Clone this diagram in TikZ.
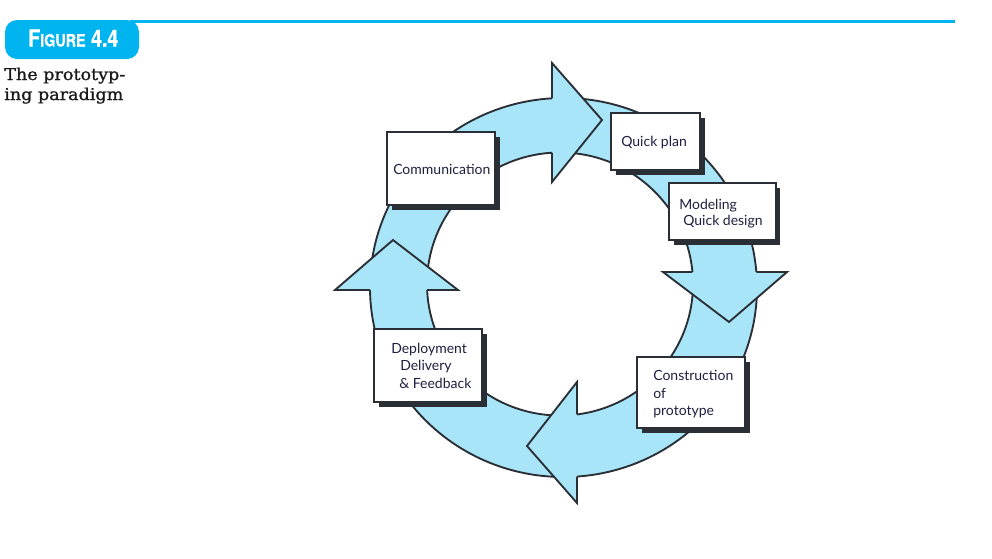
\documentclass[tikz,border=0pt]{standalone}
\usepackage{fontspec}
\usetikzlibrary{shadows}
\newfontfamily\boxfont{Lato}
\newfontfamily\capfont[FakeStretch=1.08, FakeBold=1.2]{DejaVu Serif}
\newfontfamily\figfont[FakeStretch=0.84, FakeBold=0.6]{TeX Gyre Heros}
\definecolor{ringfill}{HTML}{A9E5F8}
\definecolor{edge}{HTML}{2A2E35}
\definecolor{cyanfig}{HTML}{00B4EF}
\definecolor{txt}{HTML}{1E2040}
\begin{document}
\begin{tikzpicture}[x=0.75pt,y=-0.75pt,
 ringline/.style={draw=edge, line width=1.4pt, line join=miter},
 box/.style={draw=edge, fill=white, line width=1.5pt, inner sep=0pt,
   drop shadow={shadow xshift=3.5pt, shadow yshift=-3.5pt, opacity=1, fill=edge}},
 lbl/.style={anchor=base west, inner sep=0pt, font=\boxfont\fontsize{10.5}{12}\selectfont, text=txt},
 captext/.style={anchor=base west, inner sep=0pt, font=\capfont\fontsize{12.2}{15}\selectfont, text=black!90}]
\useasboundingbox (0,0) rectangle (992,558);

% header
\draw[cyanfig, line width=2.25pt] (130,21.5) -- (955,21.5);
\node[fill=cyanfig, rounded corners=9pt, minimum width=100.5pt, minimum height=29.25pt, inner sep=0pt] (figlabel) at (72,39.5) {};
\node[anchor=base west, inner sep=0pt, text=white] (figtext) at (28,46.5)
  {\figfont\bfseries\fontsize{17.5}{17.5}\selectfont F\fontsize{12.8}{12.8}\selectfont IGURE\fontsize{17.5}{17.5}\selectfont\ 4.4};
\node[captext] (cap1) at (4,80) {The prototyp-};
\node[captext] (cap2) at (4,100) {ing paradigm};

% ring
\fill[ringfill, even odd rule] (563.5,287.5) ellipse [x radius=193.5, y radius=189.5]
  (560,284) ellipse [x radius=133, y radius=131.5];
\draw[ringline] (563.5,287.5) ellipse [x radius=193.5, y radius=189.5];
\draw[ringline] (560,284) ellipse [x radius=133, y radius=131.5];

% arrowheads
\fill[ringfill] (552,63) -- (602,120) -- (552,182) -- cycle;
\draw[ringline] (552,98.3) -- (552,63) -- (602,120) -- (552,182) -- (552,152.7);
\fill[ringfill] (663,272) -- (729,322) -- (787,272) -- cycle;
\draw[ringline] (692.4,272) -- (663,272) -- (729,322) -- (787,272) -- (756.4,272);
\fill[ringfill] (577,382) -- (527,446) -- (577,503) -- cycle;
\draw[ringline] (577,414.4) -- (577,382) -- (527,446) -- (577,503) -- (577,476.5);
\fill[ringfill] (335,290) -- (393,240) -- (458,290) -- cycle;
\draw[ringline] (370,290) -- (335,290) -- (393,240) -- (458,290) -- (427.1,290);

% boxes
\node[box, minimum width=81pt, minimum height=54.75pt] (comm) at (441,168.5) {};
\node[box, minimum width=66.4pt, minimum height=43.1pt] (qplan) at (655.75,141.75) {};
\node[box, minimum width=79.9pt, minimum height=42.75pt] (model) at (722.25,211.5) {};
\node[box, minimum width=81pt, minimum height=55.1pt] (deploy) at (428,365.75) {};
\node[box, minimum width=81pt, minimum height=53.6pt] (constr) at (691,392.75) {};

% labels
\node[lbl] (tcomm) at (393,174) {Communication};
\node[lbl] (tqp) at (621,146.5) {Quick plan};
\node[lbl] (tmod1) at (679,209) {Modeling};
\node[lbl] (tmod2) at (683,225.5) {Quick design};
\node[lbl] (tdep1) at (391,353) {Deployment};
\node[lbl] (tdep2) at (400,370) {Delivery};
\node[lbl] (tdep3) at (399,388) {\& Feedback};
\node[lbl] (tcon1) at (653,380.5) {Construction};
\node[lbl] (tcon2) at (653,398) {of};
\node[lbl] (tcon3) at (653,415) {prototype};
\end{tikzpicture}
\end{document}
